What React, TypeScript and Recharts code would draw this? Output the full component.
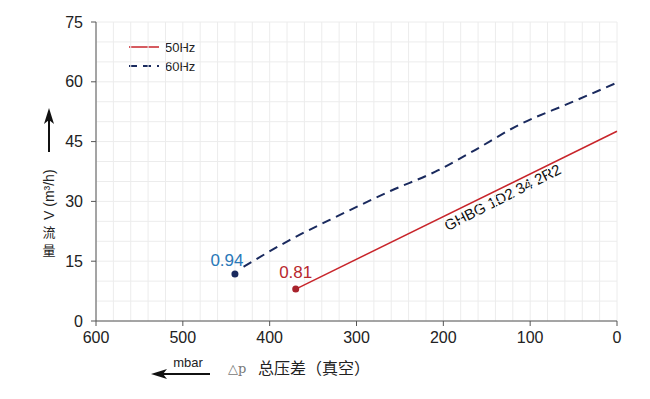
import React from "react";
import {
  LineChart,
  Line,
  XAxis,
  YAxis,
  ReferenceLine,
  ReferenceDot,
  Customized,
} from "recharts";

// 50Hz curve (straight)
const hz50X = [370, 0];
const hz50Y = [8, 47.6];

// 60Hz curve (dashed)
const hz60X = [430, 377, 319, 261, 207, 169, 112, 54, 0];
const hz60Y = [13.6, 20.3, 26.6, 32.6, 37.7, 42.2, 49.3, 54.7, 59.8];

// start points with efficiency labels
const startX = [370, 440];
const startY = [8, 11.8];
const startLabel = ["0.81", "0.94"];

const xTicks = [600, 500, 400, 300, 200, 100, 0];
const yTicks = [0, 15, 30, 45, 60, 75];

const FONT = "'Liberation Sans', Arial, sans-serif";
const CJK = "'Noto Sans CJK SC', sans-serif";

const data50 = hz50X.map((x, i) => ({ x, y: hz50Y[i] }));
const data60 = hz60X.map((x, i) => ({ x, y: hz60Y[i] }));

const vGrid = Array.from({ length: 31 }, (_, i) => i * 20);
const hGrid = Array.from({ length: 16 }, (_, i) => i * 5);

function Extras() {
  return (
    <g>
      {/* legend */}
      <line x1={129} y1={47} x2={159} y2={47} stroke="#c8252b" strokeWidth={1.5} />
      <text x={165} y={51.5} fontSize={13} fontFamily={FONT} fill="#222">50Hz</text>
      <line x1={129} y1={66} x2={159} y2={66} stroke="#1a2a5e" strokeWidth={2} strokeDasharray="8 6" />
      <text x={165} y={70.5} fontSize={13} fontFamily={FONT} fill="#222">60Hz</text>
      {/* y axis title */}
      <line x1={49} y1={152} x2={49} y2={118} stroke="#111" strokeWidth={2} />
      <path d="M49 108 L44 124 L49 120 L54 124 Z" fill="#111" />
      <text
        transform="translate(54,220) rotate(-90)"
        fontSize={14}
        fontFamily={FONT}
        fill="#222"
      >
        V (m³/h)
      </text>
      <text x={49} y={237} textAnchor="middle" fontSize={13} fontFamily={CJK} fill="#222">流</text>
      <text x={49} y={255} textAnchor="middle" fontSize={13} fontFamily={CJK} fill="#222">量</text>
      {/* x axis title */}
      <text x={188} y={367} textAnchor="middle" fontSize={13} fontFamily={FONT} fill="#222">mbar</text>
      <line x1={210} y1={374} x2={162} y2={374} stroke="#111" strokeWidth={2} />
      <path d="M151 374 L167 369 L163 374 L167 379 Z" fill="#111" />
      <text x={228} y={373} fontSize={13} fontFamily="'DejaVu Serif', serif" fill="#777">△p</text>
      <text x={258} y={374} fontSize={16} fontFamily={CJK} fill="#222">总压差（真空）</text>
      {/* curve annotation */}
      <text
        transform="translate(505,202) rotate(-27)"
        textAnchor="middle"
        fontSize={15}
        fontFamily={FONT}
        fill="#111"
      >
        GHBG 1D2 34 2R2
      </text>
    </g>
  );
}

export default function App() {
  return (
    <div style={{ position: "absolute", left: 0, top: 0, background: "#fff" }}>
      <LineChart
        width={650}
        height={399}
        margin={{ top: 22, right: 33, bottom: 48, left: 36 }}
      >
        {vGrid.map((v) => (
          <ReferenceLine key={"v" + v} x={v} stroke="#ececec" strokeWidth={1} />
        ))}
        {hGrid.map((v) => (
          <ReferenceLine key={"h" + v} y={v} stroke="#ececec" strokeWidth={1} />
        ))}
        <XAxis
          type="number"
          dataKey="x"
          domain={[0, 600]}
          reversed
          ticks={xTicks}
          interval={0}
          height={30}
          stroke="#555"
          tickSize={5}
          tick={{ fontSize: 16, fill: "#222", fontFamily: FONT }}
          tickMargin={6}
        />
        <YAxis
          type="number"
          dataKey="y"
          domain={[0, 75]}
          ticks={yTicks}
          interval={0}
          width={60}
          stroke="#555"
          tickSize={5}
          tick={{ fontSize: 16, fill: "#222", fontFamily: FONT }}
          tickMargin={8}
        />
        <Line
          data={data50}
          dataKey="y"
          name="50Hz"
          type="linear"
          stroke="#c8252b"
          strokeWidth={1.5}
          dot={false}
          isAnimationActive={false}
        />
        <Line
          data={data60}
          dataKey="y"
          name="60Hz"
          type="monotone"
          stroke="#1a2a5e"
          strokeWidth={2}
          strokeDasharray="9 6"
          dot={false}
          isAnimationActive={false}
        />
        <ReferenceDot
          x={startX[0]}
          y={startY[0]}
          r={3.5}
          fill="#a8232c"
          stroke="none"
          label={{ value: startLabel[0], position: "top", offset: 8, fill: "#b8282e", fontSize: 17, fontFamily: FONT }}
        />
        <ReferenceDot
          x={startX[1]}
          y={startY[1]}
          r={3.5}
          fill="#1a2a5e"
          stroke="none"
          label={{ value: startLabel[1], position: "top", offset: 4, dx: -8, fill: "#2a78b8", fontSize: 17, fontFamily: FONT }}
        />
        <Customized component={Extras} />
      </LineChart>
    </div>
  );
}
